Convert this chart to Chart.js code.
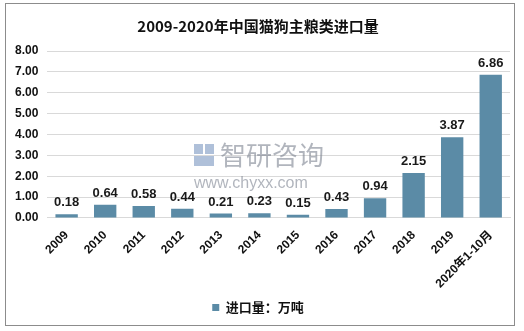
<!DOCTYPE html>
<html>
<head>
<meta charset="utf-8">
<script src="https://cdn.jsdelivr.net/npm/chart.js@4/dist/chart.umd.min.js"></script>
<style>
  html, body { margin: 0; padding: 0; background: #fff; }
  #box {
    position: absolute; left: 5px; top: 3px; width: 508px; height: 321px;
    border: 1px solid #8c8c8c; background: #fff;
  }
</style>
</head>
<body>
<div id="box"><canvas id="chart" width="508" height="321"></canvas></div>
<script>
const years = ["2009", "2010", "2011", "2012", "2013", "2014", "2015", "2016", "2017", "2018", "2019", "2020年1-10月"];
const imports = [0.18, 0.64, 0.58, 0.44, 0.21, 0.23, 0.15, 0.43, 0.94, 2.15, 3.87, 6.86];
const seriesName = "进口量：万吨";
const chartTitle = "2009-2020年中国猫狗主粮类进口量";

const FONT = "'Liberation Sans', Arial, 'Noto Sans CJK SC', sans-serif";
const BAR = "#5b8ba6";

// valores encima de cada barra
const valueLabels = {
  id: "valueLabels",
  afterDatasetsDraw(chart) {
    const ctx = chart.ctx;
    const meta = chart.getDatasetMeta(0);
    ctx.save();
    ctx.font = "bold 13px " + FONT;
    ctx.fillStyle = "#1a1a1a";
    ctx.textAlign = "center";
    ctx.textBaseline = "bottom";
    meta.data.forEach((bar, i) => {
      ctx.fillText(imports[i].toFixed(2), bar.x, bar.y - 5);
    });
    ctx.restore();
  }
};

// marca de agua
const watermark = {
  id: "watermark",
  beforeDatasetsDraw(chart) {
    const ctx = chart.ctx;
    ctx.save();
    ctx.fillStyle = "rgba(125,132,145,0.6)";
    ctx.font = "26px 'Noto Sans CJK SC', sans-serif";
    ctx.textBaseline = "middle";
    ctx.fillText("智研咨询", 214, 151);
    ctx.font = "16px " + FONT;
    ctx.fillText("www.chyxx.com", 188, 180);
    ctx.fillStyle = "rgba(110,140,185,0.55)";
    ctx.fillRect(188, 140, 9, 10);
    ctx.fillRect(199, 140, 9, 10);
    ctx.fillRect(188, 152, 20, 10);
    ctx.restore();
  }
};

new Chart(document.getElementById("chart"), {
  type: "bar",
  data: {
    labels: years,
    datasets: [{
      label: seriesName,
      data: imports,
      backgroundColor: BAR,
      barPercentage: 0.58,
      categoryPercentage: 1
    }]
  },
  options: {
    responsive: false,
    animation: false,
    layout: { padding: { left: 0, right: 4, top: 0, bottom: 1 } },
    plugins: {
      title: {
        display: true,
        text: chartTitle,
        color: "#111",
        font: { family: "'Noto Sans CJK SC', sans-serif", size: 15, weight: "bold" },
        padding: { top: 13, bottom: 16 }
      },
      legend: {
        position: "bottom",
        labels: {
          color: "#111",
          font: { family: "'Noto Sans CJK SC', sans-serif", size: 13, weight: "bold" },
          boxWidth: 7,
          boxHeight: 7,
          padding: 8
        }
      },
      tooltip: { enabled: false }
    },
    scales: {
      x: {
        grid: { display: false },
        border: { color: "#d9d9d9" },
        ticks: {
          color: "#111",
          font: { family: FONT, size: 12, weight: "bold" },
          maxRotation: 45,
          minRotation: 45,
          autoSkip: false,
          padding: 2
        }
      },
      y: {
        min: 0,
        max: 8,
        grid: { color: "#d9d9d9", drawTicks: false },
        border: { display: false },
        ticks: {
          stepSize: 1,
          color: "#111",
          padding: 9,
          font: { family: FONT, size: 12, weight: "bold" },
          callback: v => v.toFixed(2)
        }
      }
    }
  },
  plugins: [watermark, valueLabels]
});
</script>
</body>
</html>
